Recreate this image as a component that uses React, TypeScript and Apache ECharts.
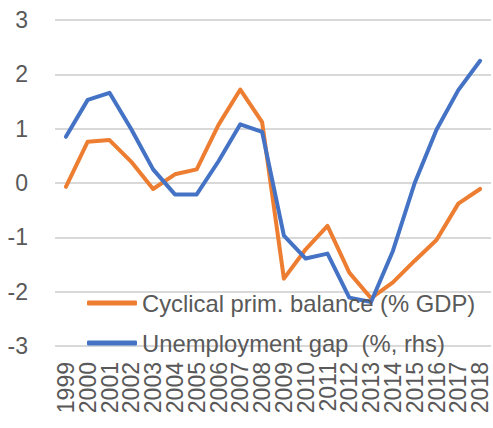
import React, { useEffect, useRef } from "react";
import * as echarts from "echarts";

const years = ["1999","2000","2001","2002","2003","2004","2005","2006","2007","2008","2009","2010","2011","2012","2013","2014","2015","2016","2017","2018"];
const cyclicalPrimBalance = [-0.07, 0.76, 0.79, 0.39, -0.11, 0.16, 0.25, 1.07, 1.72, 1.12, -1.76, -1.22, -0.79, -1.65, -2.12, -1.83, -1.43, -1.05, -0.38, -0.11];
const unemploymentGap = [0.85, 1.53, 1.66, 0.99, 0.25, -0.21, -0.21, 0.4, 1.08, 0.94, -0.97, -1.39, -1.3, -2.11, -2.19, -1.25, 0.0, 0.98, 1.71, 2.25];
const seriesNames = ["Cyclical prim. balance (% GDP)", "Unemployment gap  (%, rhs)"];

export default function App() {
  const ref = useRef<HTMLDivElement>(null);
  useEffect(() => {
    if (!ref.current) return;
    const chart = echarts.init(ref.current, undefined, { renderer: "svg" });
    const font = "Liberation Sans";
    chart.setOption({
      animation: false,
      backgroundColor: "#ffffff",
      grid: { left: 55, right: 2, top: 20, bottom: 82 },
      legend: {
        orient: "vertical",
        left: 87,
        top: 290,
        padding: 0,
        icon: "roundRect",
        itemWidth: 50,
        itemHeight: 5,
        itemGap: 14,
        textStyle: { fontFamily: font, fontSize: 23.8, color: "#595959", lineHeight: 26 },
        data: seriesNames,
      },
      xAxis: {
        type: "category",
        data: years,
        boundaryGap: true,
        axisLine: { show: false },
        axisTick: { show: false },
        axisLabel: {
          rotate: 90,
          margin: 16,
          interval: 0,
          fontFamily: font,
          fontSize: 23,
          color: "#595959",
        },
      },
      yAxis: {
        type: "value",
        min: -3,
        max: 3,
        interval: 1,
        axisLine: { show: false },
        axisTick: { show: false },
        axisLabel: { margin: 27, fontFamily: font, fontSize: 23, color: "#595959" },
        splitLine: { lineStyle: { color: "#D9D9D9", width: 2 } },
      },
      series: [
        {
          name: seriesNames[0],
          type: "line",
          data: cyclicalPrimBalance,
          symbol: "none",
          lineStyle: { color: "#ED7D31", width: 4, cap: "round", join: "round" },
          itemStyle: { color: "#ED7D31" },
        },
        {
          name: seriesNames[1],
          type: "line",
          data: unemploymentGap,
          symbol: "none",
          lineStyle: { color: "#4472C4", width: 4, cap: "round", join: "round" },
          itemStyle: { color: "#4472C4" },
        },
      ],
    });
    return () => chart.dispose();
  }, []);
  return (
    <div
      ref={ref}
      style={{ position: "fixed", left: 0, top: 0, width: 493, height: 428 }}
    />
  );
}
